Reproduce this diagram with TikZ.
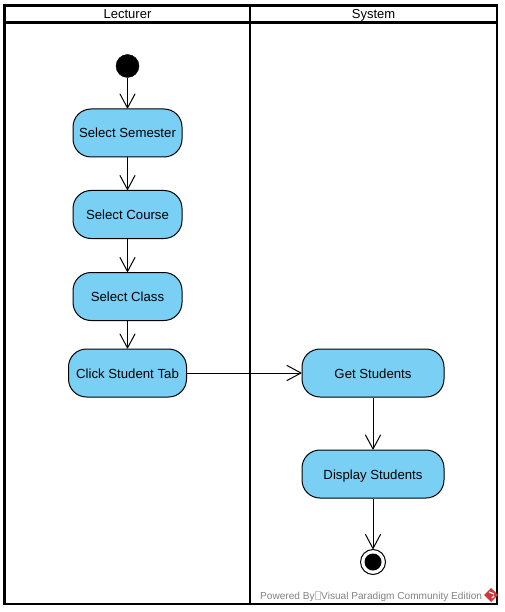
\documentclass[tikz,border=0pt]{standalone}
\usepackage{fontspec}
\setmainfont{Liberation Sans}
\usetikzlibrary{arrows.meta}
\definecolor{actblue}{RGB}{122,207,245}
\definecolor{wmgrey}{RGB}{130,130,130}
\definecolor{wmred}{RGB}{205,55,55}
\tikzset{
  x=1pt,y=-1pt,
  lane/.style={draw=black,line width=2.8pt},
  lanetitle/.style={font=\fontsize{13}{15}\selectfont,inner sep=0pt,anchor=base},
  act/.style={draw=black,line width=1pt,fill=actblue,rounded corners=18pt,minimum height=48pt,inner sep=0pt,anchor=center},
  acttext/.style={font=\fontsize{13.2}{15}\selectfont,inner sep=0pt,anchor=base},
  flow/.style={draw=black,line width=1pt,-{Straight Barb[length=14pt,width=15pt,line width=1pt,round]}},
}
\begin{document}
\begin{tikzpicture}
\useasboundingbox (0,0) rectangle (504,612);
\fill[white] (0,0) rectangle (504,612);
\draw[lane] (4.5,5.5) rectangle (497,604);
\draw[lane] (4.5,22.5) -- (497,22.5);
\draw[lane] (250,5.5) -- (250,604);
\node[lanetitle] (t1) at (127.5,19) {Lecturer};
\node[lanetitle] (t2) at (373.5,19) {System};
\node[circle,fill=black,draw=black,minimum size=23pt,inner sep=0pt] (start) at (127.5,66) {};
\node[act,minimum width=109pt] (a1) at (127.5,133) {};
\node[act,minimum width=109pt] (a2) at (127.5,214.5) {};
\node[act,minimum width=109pt] (a3) at (127.5,296.5) {};
\node[act,minimum width=118pt] (a4) at (127.5,373) {};
\node[act,minimum width=142pt] (b1) at (373,373) {};
\node[act,minimum width=142pt] (b2) at (373,474) {};
\node[acttext] (l1) at (127.5,138) {Select Semester};
\node[acttext] (l2) at (127.5,219.5) {Select Course};
\node[acttext] (l3) at (127.5,301.5) {Select Class};
\node[acttext] (l4) at (127.5,378) {Click Student Tab};
\node[acttext] (l5) at (373,378) {Get Students};
\node[acttext] (l6) at (373,479) {Display Students};
\node[circle,draw=black,line width=1pt,minimum size=25pt,inner sep=0pt] (end) at (373,562) {};
\fill[black] (end.center) circle (8.5);
\draw[flow] (start) -- (a1);
\draw[flow] (a1) -- (a2);
\draw[flow] (a2) -- (a3);
\draw[flow] (a3) -- (a4);
\draw[flow] (a4) -- (b1);
\draw[flow] (b1) -- (b2);
\draw[flow] (b2) -- (end);
\node[anchor=base west,inner sep=0pt,text=wmgrey,font=\fontsize{10.1}{12}\selectfont] (wm1) at (260,599) {Powered By};
\draw[wmgrey!45,line width=0.5pt] (315.5,591) rectangle (320.5,599);
\node[anchor=base west,inner sep=0pt,text=wmgrey,font=\fontsize{10.1}{12}\selectfont] (wm2) at (321,599) {Visual Paradigm Community Edition};
\fill[wmred] (491,588) -- (498,595) -- (491,602) -- (484,595) -- cycle;
\draw[white,line width=1.2pt] (489,592) -- (494,594) (492,598) -- (494,596);
\end{tikzpicture}
\end{document}
